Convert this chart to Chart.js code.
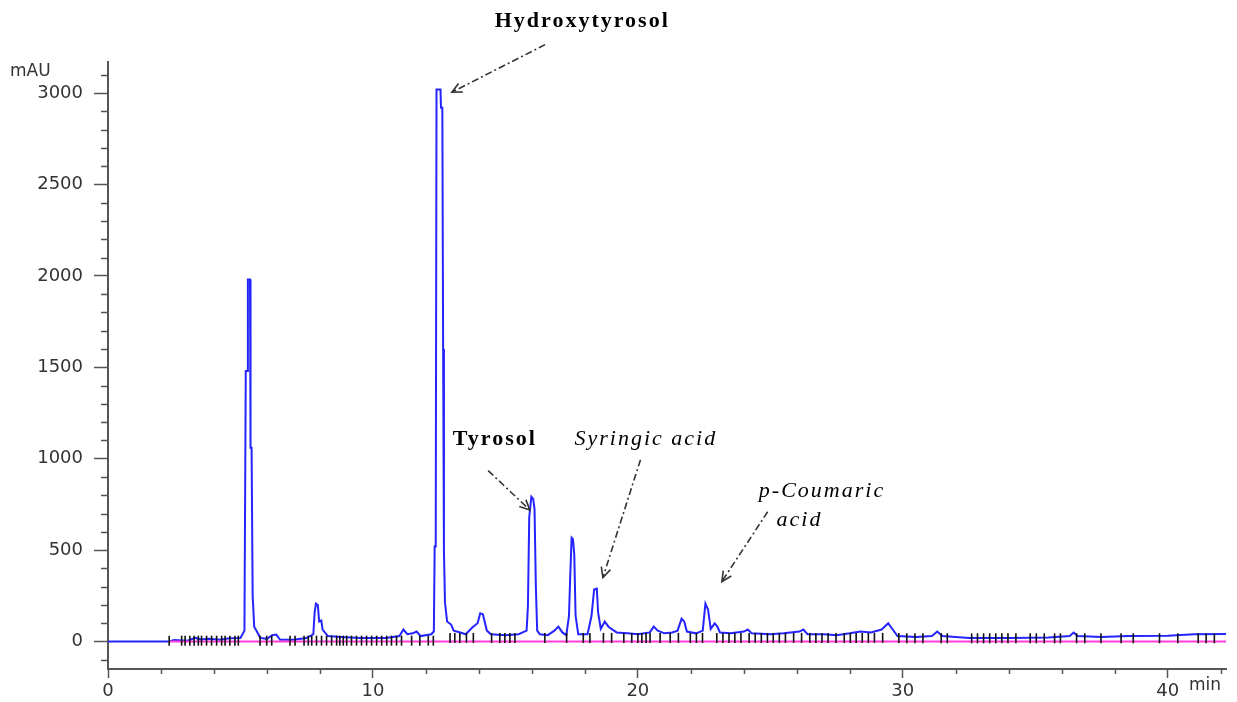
<!DOCTYPE html>
<html>
<head>
<meta charset="utf-8">
<title>HPLC chromatogram</title>
<script src="https://cdn.jsdelivr.net/npm/chart.js@4.4.1/dist/chart.umd.min.js"></script>
<style>
  html, body { margin: 0; padding: 0; background: #fff; }
  #wrap { width: 1237px; height: 702px; position: relative; }
</style>
</head>
<body>
<div id="wrap"><canvas id="chrom"></canvas></div>
<script>
// Trace: retention time (min) and absorbance (mAU)
const timeMin = [
  0, 2.3, 2.5, 3.0, 3.3, 3.5, 3.8, 4.2, 4.6, 5.0,
  5.15, 5.2, 5.26, 5.28, 5.36, 5.38, 5.42, 5.46, 5.52, 5.6,
  5.75, 6.0, 6.2, 6.35, 6.5, 7.0, 7.5, 7.75, 7.8, 7.85,
  7.92, 7.97, 8.05, 8.1, 8.3, 8.8, 9.5, 10.5, 11.0, 11.15,
  11.3, 11.5, 11.65, 11.8, 12.2, 12.3, 12.33, 12.37, 12.4, 12.55,
  12.57, 12.62, 12.65, 12.68, 12.72, 12.8, 12.95, 13.05, 13.3, 13.5,
  13.75, 13.95, 14.05, 14.15, 14.3, 14.45, 15.0, 15.5, 15.8, 15.85,
  15.9, 15.98, 16.05, 16.1, 16.15, 16.2, 16.3, 16.6, 16.85, 17.0,
  17.15, 17.3, 17.4, 17.45, 17.5, 17.55, 17.6, 17.65, 17.75, 18.1,
  18.25, 18.35, 18.45, 18.5, 18.6, 18.75, 18.9, 19.2, 19.6, 20.0,
  20.45, 20.6, 20.75, 21.0, 21.3, 21.5, 21.65, 21.75, 21.85, 22.2,
  22.45, 22.55, 22.65, 22.75, 22.9, 23.0, 23.1, 23.5, 24.0, 24.15,
  24.3, 25.0, 25.5, 26.1, 26.25, 26.4, 27.0, 27.5, 28.0, 28.4,
  28.8, 29.2, 29.45, 29.6, 29.8, 30.5, 31.1, 31.3, 31.5, 32.5,
  34.0, 35.5, 36.3, 36.45, 36.6, 37.5, 38.5, 40.0, 41.0, 42.2
];
const absMau = [
  0, 0, 8, 5, 20, 12, 15, 10, 18, 20,
  60, 1480, 1480, 1980, 1980, 1060, 1060, 250, 80, 60,
  20, 15, 35, 38, 10, 10, 20, 40, 160, 208,
  200, 110, 115, 66, 30, 25, 20, 20, 30, 66,
  40, 45, 55, 30, 40, 55, 520, 520, 3020, 3020,
  2920, 2920, 1600, 500, 213, 110, 93, 60, 50, 40,
  77, 100, 155, 150, 60, 40, 35, 40, 60, 190,
  680, 792, 780, 725, 300, 60, 40, 35, 60, 82,
  50, 35, 140, 370, 568, 560, 475, 140, 40, 40,
  140, 285, 290, 160, 70, 109, 80, 50, 45, 40,
  50, 82, 60, 45, 50, 60, 125, 110, 55, 45,
  60, 208, 175, 70, 100, 82, 50, 45, 55, 66,
  45, 40, 45, 55, 66, 40, 40, 35, 45, 55,
  50, 66, 100, 70, 30, 25, 30, 55, 30, 20,
  20, 22, 30, 49, 30, 25, 30, 32, 40, 42
];

// Pink integration baseline
const baseTime = [2.3, 42.2];
const baseMau = [0, 0];

// Black integration markers, grouped by the level they sit at
const marksEarly = [2.31, 2.78, 2.91, 3.09, 3.25, 3.41, 3.53, 3.72, 3.91, 4.10, 4.29, 4.42, 4.60, 4.79, 4.92,
  5.74, 5.99, 6.18, 6.87, 7.06, 7.40, 7.56, 7.69, 7.87, 8.06, 8.25, 8.44, 8.63, 8.75, 8.88, 9.01, 9.19,
  9.38, 9.57, 9.76, 9.95, 10.14, 10.33, 10.52, 10.70, 10.89, 11.08, 11.46, 11.77, 12.09, 12.28];
const marksMid = [12.91, 13.09, 13.28, 13.53, 13.79, 14.48, 14.79, 14.98, 15.17, 15.36, 16.49, 17.31, 17.94,
  18.19, 18.70, 19.01, 19.47, 19.77, 20.0, 20.15, 20.31, 20.46, 20.84, 21.22, 21.53, 21.98, 22.21, 22.44,
  22.98, 23.21, 23.44, 23.66, 23.89, 24.20, 24.43, 24.66, 24.89, 25.11, 25.34, 25.57, 25.88, 26.18, 26.49,
  26.72, 26.95, 27.18, 27.48, 27.79, 28.02, 28.24, 28.47, 28.70, 28.93, 29.24, 29.85];
const marksLate = [30.15, 30.46, 30.76, 31.45, 31.68, 32.60, 32.82, 33.05, 33.28, 33.51, 33.74, 33.97, 34.27,
  34.81, 35.04, 35.34, 35.73, 35.95, 36.56, 36.87, 37.48, 38.24, 38.70, 39.69, 40.38, 41.15, 41.45, 41.76];
const markLevels = [5, 20, 18];

const xTickLabels = [0, 10, 20, 30, 40];
const yTickLabels = [0, 500, 1000, 1500, 2000, 2500, 3000];

const peakNames = ['Hydroxytyrosol', 'Tyrosol', 'Syringic acid', 'p-Coumaric', 'acid'];

const toPoints = (xs, ys) => xs.map((x, i) => ({ x: x, y: ys[i] }));
const markPoints = [marksEarly, marksMid, marksLate]
  .flatMap((arr, g) => arr.map(t => ({ x: t, y: markLevels[g] })));

const AXIS = '#555';
const TICK_FONT = { family: '"DejaVu Sans"', size: 18 };

// labels and arrows, anchored on the data scales (min / mAU)
const notes = [
  { text: peakNames[0], t: 17.9, v: 3390, font: 'bold 22px "Liberation Serif"',
    arrow: [16.5, 3265, 12.98, 3005] },
  { text: peakNames[1], t: 14.6, v: 1105, font: 'bold 22px "Liberation Serif"',
    arrow: [14.35, 935, 15.92, 720] },
  { text: peakNames[2], t: 20.3, v: 1105, font: 'italic 22px "Liberation Serif"',
    arrow: [20.1, 995, 18.68, 350] },
  { text: peakNames[3], t: 26.95, v: 820, font: 'italic 22px "Liberation Serif"',
    arrow: [24.9, 710, 23.17, 328] },
  { text: peakNames[4], t: 26.1, v: 665, font: 'italic 22px "Liberation Serif"' }
];

function drawArrow(ctx, x1, y1, x2, y2) {
  ctx.save();
  ctx.strokeStyle = '#333';
  ctx.lineWidth = 1.6;
  ctx.setLineDash([7, 3, 2, 3]);
  ctx.beginPath();
  ctx.moveTo(x1, y1);
  ctx.lineTo(x2, y2);
  ctx.stroke();
  ctx.setLineDash([]);
  const a = Math.atan2(y2 - y1, x2 - x1);
  const len = 11;
  ctx.beginPath();
  ctx.moveTo(x2 - len * Math.cos(a - 0.45), y2 - len * Math.sin(a - 0.45));
  ctx.lineTo(x2, y2);
  ctx.lineTo(x2 - len * Math.cos(a + 0.45), y2 - len * Math.sin(a + 0.45));
  ctx.stroke();
  ctx.restore();
}

const extras = {
  id: 'extras',
  afterDraw(chart) {
    const ctx = chart.ctx;
    const xs = chart.scales.x, ys = chart.scales.y;
    const area = chart.chartArea;

    // minor ticks
    ctx.save();
    ctx.strokeStyle = AXIS;
    ctx.lineWidth = 1.5;
    ctx.beginPath();
    for (let v = -100; v <= 3100; v += 100) {
      if (v % 500 === 0) continue;
      const py = Math.round(ys.getPixelForValue(v)) + 0.5;
      ctx.moveTo(area.left - 7, py);
      ctx.lineTo(area.left, py);
    }
    for (let t = 2; t <= 42; t += 2) {
      if (t % 10 === 0) continue;
      const px = Math.round(xs.getPixelForValue(t)) + 0.5;
      ctx.moveTo(px, area.bottom);
      ctx.lineTo(px, area.bottom + 5);
    }
    ctx.stroke();

    // axis units
    ctx.fillStyle = '#333';
    ctx.font = '17px "DejaVu Sans"';
    ctx.textBaseline = 'middle';
    ctx.textAlign = 'left';
    ctx.fillText('mAU', 10, 72);
    ctx.fillText('min', area.right - 37, area.bottom + 17);
    ctx.restore();

    // peak labels and arrows
    ctx.save();
    ctx.fillStyle = '#000';
    ctx.textAlign = 'center';
    ctx.textBaseline = 'middle';
    ctx.letterSpacing = '2px';
    notes.forEach(n => {
      ctx.font = n.font;
      ctx.fillText(n.text, xs.getPixelForValue(n.t), ys.getPixelForValue(n.v));
      if (n.arrow) {
        const [t1, v1, t2, v2] = n.arrow;
        drawArrow(ctx, xs.getPixelForValue(t1), ys.getPixelForValue(v1),
          xs.getPixelForValue(t2), ys.getPixelForValue(v2));
      }
    });
    ctx.restore();
  }
};

new Chart(document.getElementById('chrom'), {
  type: 'line',
  data: {
    datasets: [{
      label: 'marks',
      type: 'scatter',
      data: markPoints,
      pointStyle: 'line',
      rotation: 90,
      pointRadius: 5,
      pointBorderWidth: 1.6,
      pointBorderColor: '#111',
      order: 0
    }, {
      label: 'baseline',
      data: toPoints(baseTime, baseMau),
      borderColor: '#ff3cdc',
      borderWidth: 2,
      pointRadius: 0,
      order: 1
    }, {
      label: 'DAD signal',
      data: toPoints(timeMin, absMau),
      borderColor: '#2424ff',
      borderWidth: 2,
      pointRadius: 0,
      tension: 0,
      order: 2
    }]
  },
  options: {
    responsive: true,
    maintainAspectRatio: false,
    animation: false,
    events: [],
    layout: { padding: { top: 62, right: 11, left: 0, bottom: 0 } },
    plugins: {
      legend: { display: false },
      tooltip: { enabled: false }
    },
    scales: {
      x: {
        type: 'linear',
        min: 0,
        max: 42.2,
        afterBuildTicks: s => { s.ticks = xTickLabels.map(v => ({ value: v })); },
        afterFit: s => { s.height = 33; },
        ticks: { font: TICK_FONT, color: '#333', padding: 3, maxRotation: 0, autoSkip: false,
          callback: v => String(v) },
        grid: { drawOnChartArea: false, tickLength: 9, tickColor: AXIS, tickWidth: 1.5 },
        border: { color: AXIS, width: 2 }
      },
      y: {
        type: 'linear',
        min: -150,
        max: 3170,
        afterBuildTicks: s => { s.ticks = yTickLabels.map(v => ({ value: v })); },
        afterFit: s => { s.width = 108; },
        ticks: { font: TICK_FONT, color: '#333', padding: 11, callback: v => String(v) },
        grid: { drawOnChartArea: false, tickLength: 14, tickColor: AXIS, tickWidth: 1.5 },
        border: { color: AXIS, width: 2 }
      }
    }
  },
  plugins: [extras]
});
</script>
</body>
</html>
